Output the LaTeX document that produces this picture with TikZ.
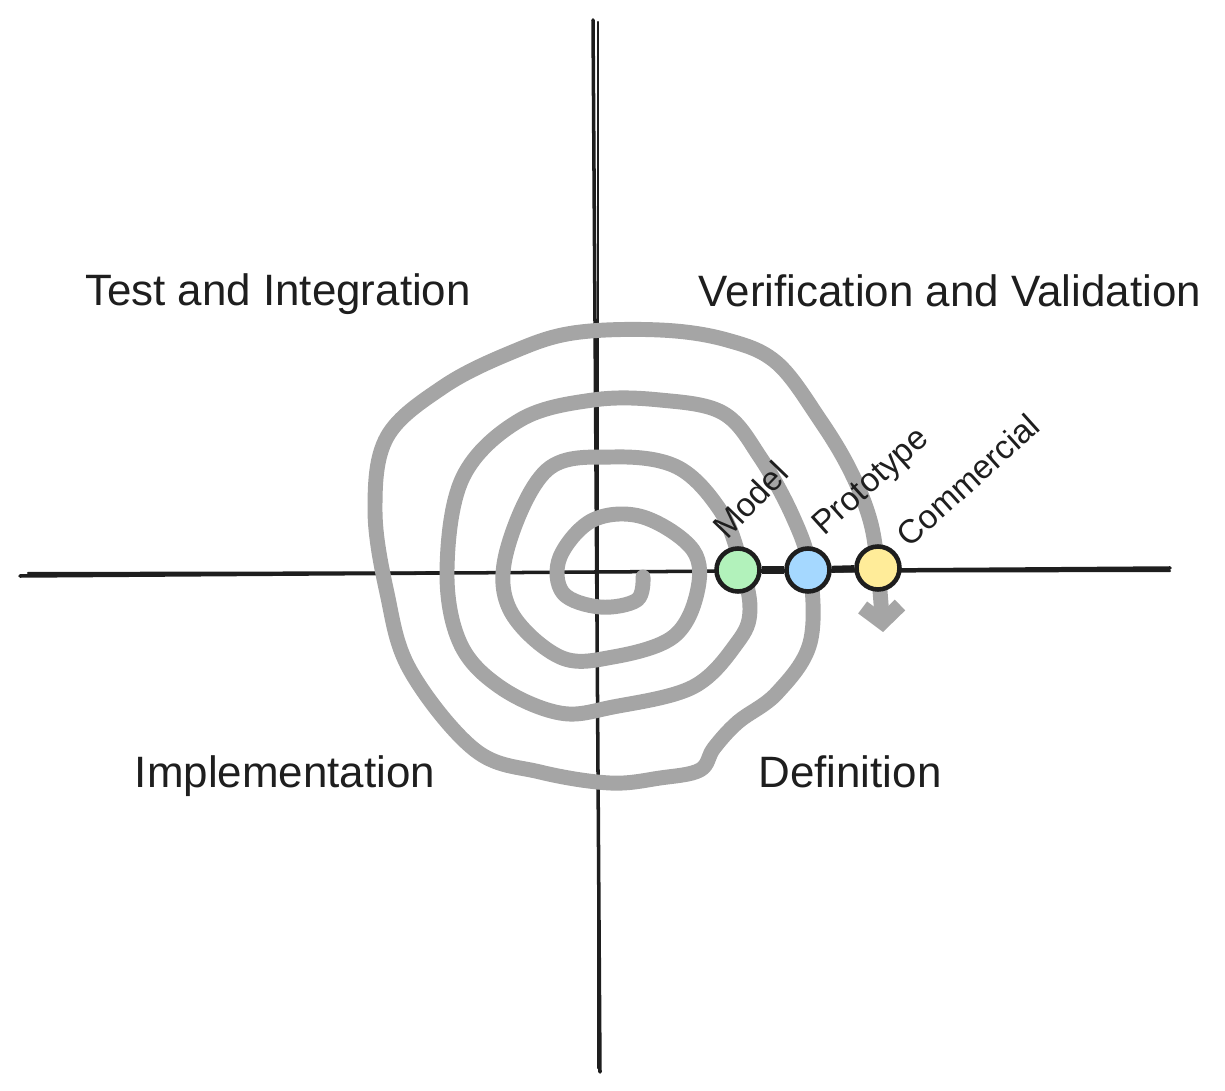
\documentclass[tikz,border=0pt]{standalone}
\usepackage{fontspec}
\setmainfont{Liberation Sans}
\usetikzlibrary{arrows.meta}

\definecolor{ink}{HTML}{1E1E1E}
\definecolor{spiralgray}{HTML}{A5A5A5}
\definecolor{modelgreen}{HTML}{B2F2BB}
\definecolor{protoblue}{HTML}{A5D8FF}
\definecolor{commyellow}{HTML}{FFEC99}

\tikzset{
  axis/.style={draw=ink, line width=2pt, line cap=round},
  spiral/.style={draw=spiralgray, line width=8.5pt, line cap=round, line join=round},
  stage/.style={circle, draw=ink, line width=2.6pt, minimum size=0.86cm, inner sep=0pt},
  link/.style={draw=ink, line width=4pt},
  phase/.style={font=\fontsize{25}{30}\selectfont, text=ink},
  release/.style={font=\fontsize{19}{22}\selectfont, text=ink, rotate=42}
}

\begin{document}
\begin{tikzpicture}[x=0.02cm, y=-0.02cm]
    \useasboundingbox (0,0) rectangle (1225,1091);

    % Axes (sketched twice)
    \coordinate (west)  at (20,576);
    \coordinate (east)  at (1170,568);
    \coordinate (north) at (593,20);
    \coordinate (south) at (600,1072);
    \draw[axis] (west) -- (east);
    \draw[axis, line width=1.2pt] ([shift={(8,-3)}]west) -- ([shift={(0,3)}]east);
    \draw[axis] (north) -- (south);
    \draw[axis, line width=1.2pt] ([shift={(5,2)}]north) -- ([shift={(-2,-4)}]south);

    % Spiral (inside out)
    \draw[spiral, -{Straight Barb[length=3.2mm, width=7.5mm]}] plot[smooth, tension=0.6] coordinates {
      (643,577) (637,600) (600,607) (563,593) (560,557) (593,520) (643,517)
      (693,550) (697,593) (673,637) (613,657) (560,657) (510,610) (507,550)
      (547,470) (613,457) (677,467) (720,510) (740,560) (750,610) (737,643)
      (693,687) (613,707) (560,713) (500,687) (460,643) (447,570) (463,477)
      (520,420) (593,400) (660,400) (723,413) (760,457) (793,517) (810,570)
      (810,643) (777,693) (738,722) (714,748) (700,770) (660,778) (610,783)
      (540,772) (475,750) (410,670) (387,593) (375,510) (387,437) (443,387)
      (510,353) (573,333) (660,330) (727,340) (777,363) (820,420) (850,470)
      (870,520) (878,570) (883,632)};

    % Releases on the axis
    \node[stage, fill=modelgreen] (model) at (738,570) {};
    \node[stage, fill=protoblue]  (proto) at (808,570) {};
    \node[stage, fill=commyellow] (comm)  at (878,568) {};
    \draw[link] (model) -- (proto);
    \draw[link] (proto) -- (comm);

    \node[release, rotate=4] (modellbl) at (750,500) {Model};
    \node[release] (protolbl) at (872,483) {Prototype};
    \node[release] (commlbl)  at (968,480) {Commercial};

    % Quadrants
    \node[phase] (test)   at (278,294) {Test and Integration};
    \node[phase] (verify) at (950,291) {Verification and Validation};
    \node[phase] (impl)   at (285,776) {Implementation};
    \node[phase] (def)    at (850,772) {Definition};
\end{tikzpicture}
\end{document}
